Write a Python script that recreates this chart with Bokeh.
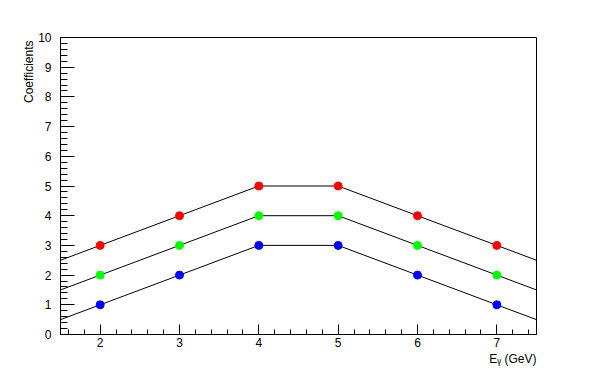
import numpy as np
from bokeh.plotting import figure
from bokeh.models import SingleIntervalTicker, Title, Range1d
from bokeh.embed import file_html
from bokeh.resources import INLINE

# Data
x_vals = [2, 3, 4, 5, 6, 7]
blue_vals = [1, 2, 3, 3, 2, 1]
green_vals = [2, 3, 4, 4, 3, 2]
red_vals = [3, 4, 5, 5, 4, 3]
x_range = (1.5, 7.5)
y_range = (0, 10)
x_title = "Eᵧ (GeV)"
y_title = "Coefficients"

FONT = "Liberation Sans"

p = figure(width=596, height=372, output_backend="svg", toolbar_location=None,
           x_range=Range1d(*x_range), y_range=Range1d(*y_range),
           min_border_left=60, min_border_right=60, min_border_top=37, min_border_bottom=38)
p.xgrid.visible = False
p.ygrid.visible = False
p.background_fill_color = "white"
p.border_fill_color = "white"
p.outline_line_color = "black"
p.outline_line_width = 1


def extend(xs, ys, lo, hi):
    xs = np.asarray(xs, float)
    ys = np.asarray(ys, float)
    s0 = (ys[1] - ys[0]) / (xs[1] - xs[0])
    s1 = (ys[-1] - ys[-2]) / (xs[-1] - xs[-2])
    ex = np.concatenate([[lo], xs, [hi]])
    ey = np.concatenate([[ys[0] + s0 * (lo - xs[0])], ys, [ys[-1] + s1 * (hi - xs[-1])]])
    return ex, ey


series = [(blue_vals, "#0000ff"), (green_vals, "#00ff00"), (red_vals, "#ff0000")]
for ys, col in series:
    ex, ey = extend(x_vals, ys, *x_range)
    p.line(ex, ey, line_color="black", line_width=1)
for ys, col in series:
    p.scatter(x_vals, ys, size=8, fill_color=col, line_color=col, marker="circle")

# Axes
xa = p.xaxis[0]
xa.ticker = SingleIntervalTicker(interval=1, num_minor_ticks=5)
xa.major_tick_in = 10
xa.major_tick_out = 0
xa.minor_tick_in = 5
xa.minor_tick_out = 0
xa.major_label_standoff = 3
ya = p.yaxis[0]
ya.ticker = SingleIntervalTicker(interval=1, num_minor_ticks=5)
ya.major_tick_in = 14
ya.major_tick_out = 0
ya.minor_tick_in = 7
ya.minor_tick_out = 0
ya.major_label_standoff = 9
for ax in (xa, ya):
    ax.axis_line_color = "black"
    ax.major_tick_line_color = "black"
    ax.minor_tick_line_color = "black"
    ax.major_label_text_font = FONT
    ax.major_label_text_font_size = "12px"
    ax.major_label_text_color = "black"

p.add_layout(Title(text=x_title, align="right", text_font=FONT, text_font_size="12px",
                   text_font_style="normal", text_color="black", standoff=0, offset=0), "below")
p.add_layout(Title(text=y_title, align="right", text_font=FONT, text_font_size="12px",
                   text_font_style="normal", text_color="black", standoff=0, offset=3), "left")

open("out.html", "w").write(file_html(p, INLINE))
